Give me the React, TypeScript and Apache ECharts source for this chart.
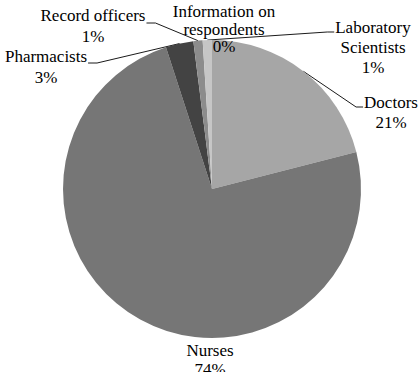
import React, { useEffect, useRef } from 'react';
import * as echarts from 'echarts';

const categories = [
  'Doctors',
  'Nurses',
  'Pharmacists',
  'Record officers',
  'Information on respondents',
  'Laboratory Scientists',
];
const labelTexts = [
  'Doctors',
  'Nurses',
  'Pharmacists',
  'Record officers',
  'Information on\nrespondents',
  'Laboratory\nScientists',
];
const percentages = [21, 74, 3, 1, 0, 1];
const colors = ['#a6a6a6', '#767676', '#434343', '#8c8c8c', '#b4b4b4', '#c6c6c6'];

// label placement (presentation only)
const labelPlacement = [
  { cx: 391, cy: 112, lh: 20, side: 'left', lineY: 107 },
  { cx: 210, cy: 360, lh: 19, side: 'none', lineY: 0 },
  { cx: 46, cy: 67, lh: 21, side: 'right', lineY: 63 },
  { cx: 93, cy: 26, lh: 21, side: 'right', lineY: 23 },
  { cx: 224, cy: 29, lh: 17.5, side: 'none', lineY: 0 },
  { cx: 373, cy: 47, lh: 20, side: 'left', lineY: 32 },
];

const FONT = '"Liberation Serif", "Times New Roman", serif';

export default function App() {
  const ref = useRef<HTMLDivElement>(null);
  useEffect(() => {
    if (!ref.current) return;
    const chart = echarts.init(ref.current, undefined, { renderer: 'svg' });
    const data = categories.map((name, i) => ({
      name,
      value: percentages[i],
      itemStyle: { color: colors[i] },
      label: { lineHeight: labelPlacement[i].lh },
      labelLine: { show: labelPlacement[i].side !== 'none' },
    }));
    chart.setOption({
      animation: false,
      backgroundColor: '#ffffff',
      series: [
        {
          type: 'pie',
          center: [212, 189],
          radius: 149,
          startAngle: 90,
          clockwise: true,
          avoidLabelOverlap: false,
          data,
          label: {
            show: true,
            position: 'outside',
            color: '#000',
            fontFamily: FONT,
            fontSize: 17,
            lineHeight: 20,
            align: 'center',
            formatter: (p: any) => `${labelTexts[p.dataIndex]}\n${p.value}%`,
          },
          labelLine: {
            show: true,
            length: 10,
            length2: 10,
            lineStyle: { color: '#000', width: 0.9 },
          },
          labelLayout: (params: any) => {
            const p = labelPlacement[params.dataIndex];
            const w = params.labelRect ? params.labelRect.width : 0;
            const res: any = { x: p.cx, y: p.cy, align: 'center', verticalAlign: 'middle' };
            if (p.side !== 'none' && params.labelLinePoints) {
              const start = params.labelLinePoints[0];
              const edgeX = p.side === 'left' ? p.cx - w / 2 - 1 : p.cx + w / 2 + 1;
              const elbowX = p.side === 'left' ? edgeX - 7 : edgeX + 9;
              res.labelLinePoints = [start, [elbowX, p.lineY], [edgeX, p.lineY]];
            }
            return res;
          },
          emphasis: { disabled: true },
        },
      ],
    });
    return () => chart.dispose();
  }, []);
  return (
    <div
      ref={ref}
      style={{ position: 'fixed', left: 0, top: 0, width: 419, height: 372 }}
    />
  );
}
